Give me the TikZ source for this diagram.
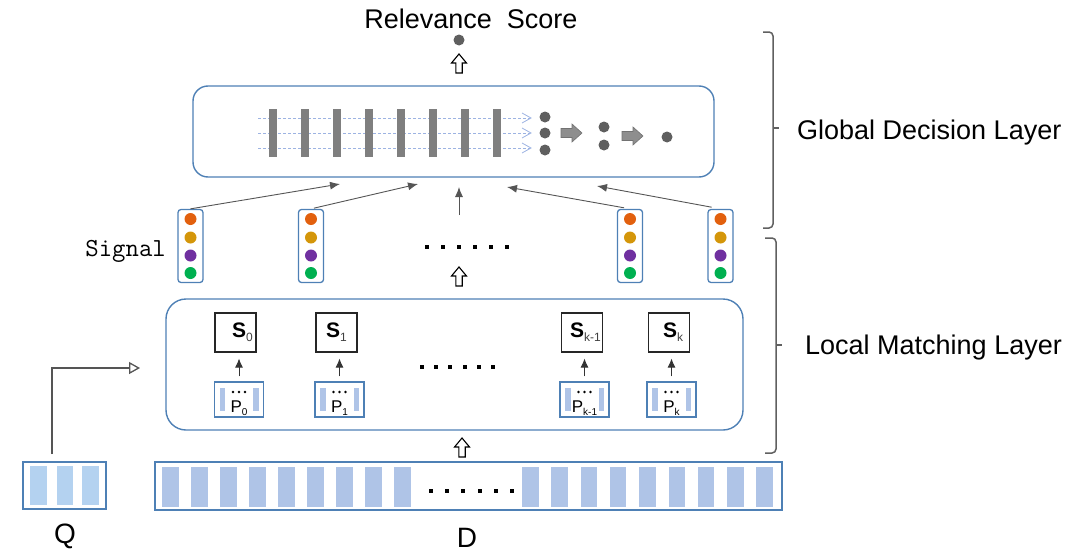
\documentclass[tikz,border=0pt]{standalone}
\usepackage{fontspec}
\setmainfont{Liberation Sans}
\usetikzlibrary{arrows.meta,calc}
\definecolor{boxblue}{HTML}{4E80B5}
\definecolor{barblue}{HTML}{AFC4E7}
\definecolor{qblue}{HTML}{B4D2F0}
\definecolor{bargray}{HTML}{7F7F7F}
\definecolor{dashblue}{HTML}{9DB3E2}
\definecolor{dotgray}{HTML}{5F5F5F}
\definecolor{arrgray}{HTML}{8E8E8E}
\definecolor{sorange}{HTML}{E2600E}
\definecolor{sgold}{HTML}{D4960A}
\definecolor{spurple}{HTML}{7030A0}
\definecolor{sgreen}{HTML}{00B050}
\definecolor{linegray}{HTML}{555555}
\definecolor{brkgray}{HTML}{606060}
\begin{document}
\begin{tikzpicture}[x=1pt,y=-1pt,
  rbox/.style={draw=boxblue, line width=1.4pt, inner sep=0pt, outer sep=0pt},
  sigbox/.style={draw=boxblue, line width=1.3pt, rounded corners=3pt, minimum width=25pt, minimum height=73pt, inner sep=0pt},
  sbox/.style={draw=black!85, line width=1.2pt, fill=white, minimum width=41pt, minimum height=39pt, inner sep=0pt},
  pbox/.style={draw=boxblue, line width=1.2pt, minimum width=49pt, minimum height=35pt, inner sep=0pt},
  sigarrow/.style={draw=linegray, line width=0.9pt, -{Latex[length=10pt,width=8pt]}},
  sarrow/.style={draw=black!80, line width=0.8pt, -{Latex[length=9pt,width=8pt]}},
  brk/.style={draw=brkgray, line width=1.5pt, rounded corners=4pt},
  bigtext/.style={inner sep=0pt, font=\fontsize{27}{30}\selectfont},
  hup/.pic={\draw[black, line width=1.1pt, fill=white, line join=miter] (-3.2,0) -- (-3.2,-10) -- (-7.5,-10) -- (0,-19) -- (7.5,-10) -- (3.2,-10) -- (3.2,0) -- cycle;},
  garrow/.pic={\draw[fill=arrgray, draw=arrgray!80!black, line width=0.6pt] (0,-4.5) -- (11,-4.5) -- (11,-9) -- (21,0) -- (11,9) -- (11,4.5) -- (0,4.5) -- cycle;}
]
\useasboundingbox (0,0) rectangle (1080,557);

% ---------- Relevance score ----------
\node[bigtext] (rel) at (471,19) {Relevance\ \ Score};
\fill[dotgray] (459,40) circle (5.5);
\pic at (459,73) {hup};

% ---------- Global decision box ----------
\node[rbox, rounded corners=15pt, minimum width=521pt, minimum height=91pt, anchor=north west] (gbox) at (193,86) {};
\foreach \y in {118,133,148} {
  \draw[dashblue, dash pattern=on 3pt off 2pt, line width=0.8pt] (258,\y) -- (530,\y);
  \draw[dashblue, line width=0.8pt] (522,\y-5) -- (531,\y) -- (522,\y+5);
}
\foreach \i in {0,...,7} \fill[bargray] ({269+32*\i},109) rectangle ++(8,48);
\foreach \y in {117,133,150} \fill[dotgray] (545,\y) circle (5.5);
\pic at (561,133) {garrow};
\foreach \y in {127,145} \fill[dotgray] (604,\y) circle (5.5);
\pic at (622,136) {garrow};
\fill[dotgray] (667,137) circle (5.5);

% ---------- Signals ----------
\node[anchor=east, inner sep=0pt, font=\ttfamily\fontsize{26}{28}\selectfont] (sig) at (166,251) {Signal};
\foreach \n/\x in {sg1/190.5, sg2/311, sg3/630, sg4/720.5} {
  \node[sigbox] (\n) at (\x,246) {};
  \fill[sorange] (\x,219) circle (6);
  \fill[sgold] (\x,237.5) circle (6);
  \fill[spurple] (\x,255.5) circle (6);
  \fill[sgreen] (\x,273) circle (6);
}
\foreach \i in {0,...,5} \fill ({427+16*\i-2},245) rectangle ++(4,4);

\coordinate (g1) at (340,184);
\coordinate (g2) at (418,184);
\coordinate (g3) at (507,187);
\coordinate (g4) at (597,186);
\coordinate (gc) at (459,187);
\coordinate (sc) at (459,215);
\draw[sigarrow] (sg1.north) -- (g1);
\draw[sigarrow, shorten <=3pt] (sg2.north) -- (g2);
\draw[sigarrow, shorten <=6pt] (sg3.north) -- (g3);
\draw[sigarrow, shorten <=9pt] (sg4.north) -- (g4);
\draw[sigarrow] (sc) -- (gc);
\pic at (459,286) {hup};

% ---------- Local matching box ----------
\node[rbox, rounded corners=20pt, minimum width=577pt, minimum height=131pt] (lbox) at (454.5,364.5) {};

\node[sbox] (s0) at (235.5,332.5) {\hspace*{14pt}{\fontsize{21}{22}\selectfont\bfseries S}{\fontsize{12}{13}\selectfont\color{black!75}\raisebox{-4pt}{0}}};
\node[sbox] (s1) at (336.5,332.5) {{\fontsize{21}{22}\selectfont\bfseries S}{\fontsize{12}{13}\selectfont\color{black!75}\raisebox{-4pt}{1}}};
\node[sbox] (s2) at (582,332.5) {\hspace*{7pt}{\fontsize{21}{22}\selectfont\bfseries S}{\fontsize{12}{13}\selectfont\color{black!75}\raisebox{-4pt}{k-1}}};
\node[sbox] (s3) at (669,332.5) {\hspace*{8pt}{\fontsize{21}{22}\selectfont\bfseries S}{\fontsize{12}{13}\selectfont\color{black!75}\raisebox{-4pt}{k}}};

\foreach \n/\x/\t in {p0/239/0, p1/339.5/1, p2/584.5/k-1, p3/671.5/k} {
  \node[pbox] (\n) at (\x,399.5) {};
  \fill[barblue] (\x-19.5,387.5) rectangle (\x-14,410.5);
  \fill[barblue] (\x+14,387.5) rectangle (\x+19.5,410.5);
  \foreach \d in {-6,0,6} \fill (\x+\d,392) circle (1.3);
  \node[anchor=base, inner sep=0pt] (\n lab) at (\x,412.5) {{\fontsize{17}{17}\selectfont P}{\fontsize{10}{10}\selectfont\raisebox{-2.5pt}{\t}}};
}
\foreach \p/\s in {p0/s0, p1/s1, p2/s2, p3/s3}
  \draw[sarrow, shorten <=5pt, shorten >=6pt] (\p.north) -- (\p.north |- \s.south);
\foreach \i in {0,...,5} \fill ({422+14.2*\i-2},365) rectangle ++(4,4);

\pic at (462,457) {hup};

% ---------- D ----------
\node[rbox, line width=1.5pt, minimum width=627pt, minimum height=48pt] (dbox) at (468.5,486) {};
\foreach \i in {0,...,8} \fill[barblue] ({162+29*\i},467) rectangle ++(16.5,40);
\foreach \i in {0,...,8} \fill[barblue] ({522+29.3*\i},467) rectangle ++(16.5,40);
\foreach \i in {0,...,5} \fill ({431+16.2*\i-2},489) rectangle ++(4,4);
\node[anchor=base, inner sep=0pt, font=\fontsize{28}{30}\selectfont] (dlab) at (467,547) {D};

% ---------- Q ----------
\node[rbox, line width=1.5pt, minimum width=83pt, minimum height=47pt] (qbox) at (64.5,485.5) {};
\foreach \x in {30,56.5,82} \fill[qblue] (\x,466) rectangle ++(16.5,39);
\node[anchor=base, inner sep=0pt, font=\fontsize{28}{30}\selectfont] (qlab) at (65,543) {Q};
\coordinate (qs) at (52,454);
\coordinate (qe) at (140,368);
\draw[draw=linegray, line width=1.5pt, -{Triangle[open, length=11pt, width=12pt, line width=1.3pt]}] (qs) |- (qe);

% ---------- brackets ----------
\draw[brk] (763,32) -- (773,32) -- (773,228) -- (763,228);
\draw[draw=brkgray, line width=1.5pt] (773,128) -- (779,128);
\draw[brk] (765,238) -- (776,238) -- (776,453) -- (765,453);
\draw[draw=brkgray, line width=1.5pt] (776,345) -- (782,345);
\node[bigtext, anchor=west] (gdl) at (797,133) {Global Decision Layer};
\node[bigtext, anchor=west] (lml) at (805,348) {Local Matching Layer};
\end{tikzpicture}
\end{document}
